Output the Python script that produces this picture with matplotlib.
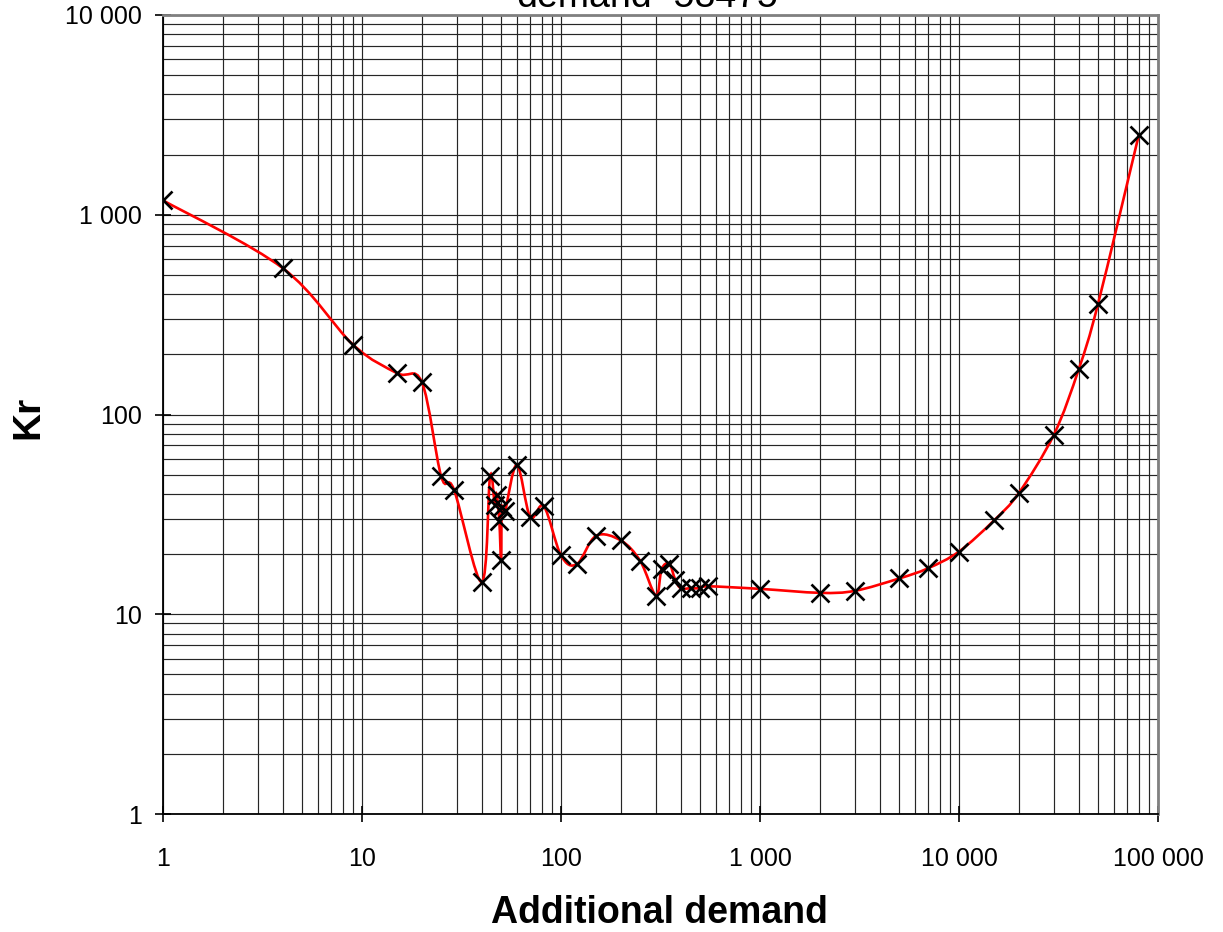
import matplotlib.pyplot as plt
import numpy as np
from matplotlib.path import Path
from matplotlib.patches import PathPatch
from matplotlib.ticker import FixedLocator, FixedFormatter, LogLocator, NullFormatter

plt.rcParams['font.family'] = ['Liberation Sans', 'DejaVu Sans']

# additional demand vs Kr
demand = [1, 4, 9, 15, 20, 25, 29, 40, 44, 46.5, 47.5, 49, 50, 50.4, 52.3, 60, 70, 82,
          100, 120, 150, 200, 250, 300, 320, 350, 375, 400, 450, 500, 550,
          1000, 2000, 3000, 5000, 7000, 10000, 15000, 20000, 30000, 40000, 50000, 80000]
kr = [1180, 540, 224, 161, 145, 49, 42, 14.5, 49, 35.4, 39.7, 29.2, 18.6, 34.5, 32.7, 56, 30.7, 34.7,
      19.7, 17.8, 24.7, 23.4, 18.5, 12.4, 16.8, 17.9, 14.9, 13.5, 13.5, 13.5, 13.8,
      13.4, 12.8, 13.1, 15.1, 17, 20.6, 29.5, 40.5, 79.4, 169, 359, 2500]

x_ticks = [1, 10, 100, 1000, 10000, 100000]
x_labels = ['1', '10', '100', '1 000', '10 000', '100 000']
y_ticks = [1, 10, 100, 1000, 10000]
y_labels = ['1', '10', '100', '1 000', '10 000']
title = 'demand=58475'


def smooth_path(xs, ys):
    # excel-style smoothed line: cubic beziers through the points, built in log space
    lx = np.log10(xs)
    ly = np.log10(ys)
    pts = np.column_stack([lx, ly])
    n = len(pts)
    verts = [pts[0]]
    codes = [Path.MOVETO]
    for i in range(n - 1):
        p0 = pts[i - 1] if i > 0 else pts[i]
        p1 = pts[i]
        p2 = pts[i + 1]
        p3 = pts[i + 2] if i + 2 < n else pts[i + 1]
        c1 = p1 + (p2 - p0) / 6.0
        c2 = p2 - (p3 - p1) / 6.0
        verts += [c1, c2, p2]
        codes += [Path.CURVE4] * 3
    verts = 10 ** np.array(verts)
    return Path(verts, codes)


fig = plt.figure(figsize=(12.23, 9.32), dpi=100)
ax = fig.add_axes([163 / 1223, 1 - 814 / 932, (1158 - 163) / 1223, (814 - 15) / 932])

ax.set_xscale('log')
ax.set_yscale('log')
ax.set_xlim(1, 100000)
ax.set_ylim(1, 10000)

ax.add_patch(PathPatch(smooth_path(demand, kr), fill=False, edgecolor='red', lw=1.9, zorder=3))
ax.plot(demand, kr, linestyle='none', marker='x', color='black', ms=13, mew=1.9, zorder=4)

ax.xaxis.set_major_locator(FixedLocator(x_ticks))
ax.xaxis.set_major_formatter(FixedFormatter(x_labels))
ax.yaxis.set_major_locator(FixedLocator(y_ticks))
ax.yaxis.set_major_formatter(FixedFormatter(y_labels))
ax.xaxis.set_minor_locator(LogLocator(base=10, subs=range(2, 10), numticks=100))
ax.yaxis.set_minor_locator(LogLocator(base=10, subs=range(2, 10), numticks=100))
ax.xaxis.set_minor_formatter(NullFormatter())
ax.yaxis.set_minor_formatter(NullFormatter())

ax.set_axisbelow(True)
ax.grid(which='both', color='#262626', lw=0.85)

ax.tick_params(which='major', direction='inout', length=12, width=1.2, labelsize=18)
ax.tick_params(axis='x', which='major', pad=18)
ax.tick_params(axis='y', which='major', pad=9)
ax.tick_params(which='minor', length=0)

for side in ['left', 'bottom']:
    ax.spines[side].set_linewidth(1.3)
    ax.spines[side].set_color('black')
for side in ['top', 'right']:
    ax.spines[side].set_linewidth(2)
    ax.spines[side].set_color('#808080')

fig.text(647 / 1223, 1 - 7 / 932, title, ha='center', va='baseline', fontsize=27)
fig.text(659 / 1223, 1 - 923 / 932, 'Additional demand', ha='center', va='baseline',
         fontsize=27, fontweight='bold')
fig.text(28 / 1223, 1 - 417 / 932, 'Kr', ha='center', va='center', rotation=90,
         fontsize=28, fontweight='bold')

fig.savefig('out.png', dpi=100)
